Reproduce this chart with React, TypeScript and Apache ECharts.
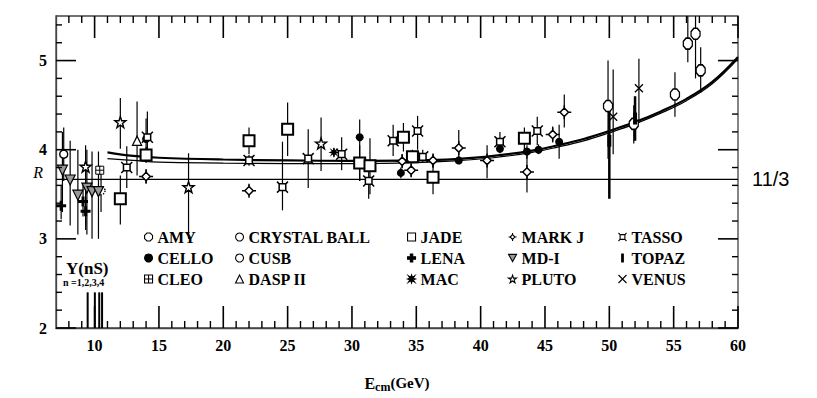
import React, { useEffect, useRef } from "react";
import * as echarts from "echarts";

// ---- axis ranges & ticks ----
const X_MIN = 7;
const X_MAX = 60;
const Y_MIN = 2;
const Y_MAX = 5.5;
const X_MAJOR_TICKS = [10, 15, 20, 25, 30, 35, 40, 45, 50, 55, 60];
const Y_MAJOR_TICKS = [2, 3, 4, 5];
const X_MINOR_STEP = 1;
const Y_MINOR_STEP = 0.2;
const R_PARTON = 11 / 3;

// ---- measurements: [E_cm, R, R_low, R_high] ----
const AMY = [[49.9, 4.49, 3.9, 5.0], [51.9, 4.29, 4.07, 4.5], [55.1, 4.62, 4.37, 4.87], [56.1, 5.19, 4.98, 5.5], [56.7, 5.3, 4.8, 5.5], [57.1, 4.89, 4.64, 5.15]];
const CELLO = [[14.0, 4.12, 3.92, 4.35], [30.6, 4.14, 3.65, 4.34], [33.8, 3.74, 3.68, 3.8], [38.3, 3.88, 3.84, 3.92], [41.5, 4.01, 3.96, 4.06], [43.6, 3.98, 3.9, 4.05], [44.5, 4.0, 3.95, 4.06], [46.1, 4.09, 3.9, 4.28]];
const CLEO = [[10.4, 3.77, 3.72, 3.82]];
const CRYSTAL_BALL = [[7.6, 3.95, 3.65, 4.25]];
const CUSB = [[10.5, 3.54, 3.3, 3.8]];
const DASP_II = [[13.3, 4.1, 3.71, 4.54]];
const JADE = [[12.0, 3.45, 3.16, 3.71], [14.0, 3.94, 3.85, 4.03], [22.0, 4.1, 3.95, 4.25], [25.0, 4.23, 3.93, 4.53], [30.6, 3.85, 3.65, 4.05], [31.4, 3.82, 3.5, 4.13], [34.0, 4.14, 3.98, 4.3], [34.7, 3.92, 3.85, 4.0], [36.3, 3.69, 3.5, 3.88], [43.4, 4.13, 3.99, 4.25]];
const LENA = [[7.4, 3.37, 3.22, 3.6], [9.1, 3.42, 3.25, 3.6], [9.3, 3.31, 3.15, 3.47]];
const MAC = [[28.6, 3.97, 3.92, 4.02]];
const MARK_J = [[14.0, 3.7, 3.62, 3.78], [22.0, 3.54, 3.48, 3.6], [33.9, 3.87, 3.8, 3.95], [34.6, 3.77, 3.7, 3.84], [36.3, 3.88, 3.8, 3.95], [38.3, 4.02, 3.88, 4.22], [40.5, 3.88, 3.68, 4.05], [43.6, 3.75, 3.52, 3.97], [45.6, 4.17, 4.08, 4.26], [46.5, 4.42, 4.25, 4.62]];
const MD_1 = [[7.5, 3.77, 3.3, 4.2], [8.1, 3.66, 3.15, 4.1], [8.7, 3.49, 3.05, 4.0], [9.4, 3.57, 3.05, 4.0], [9.8, 3.53, 3.0, 3.98], [10.3, 3.53, 3.0, 3.98]];
const PLUTO = [[9.3, 3.81, 3.1, 4.05], [12.0, 4.31, 4.01, 4.58], [17.3, 3.58, 3.0, 3.96], [27.6, 4.07, 3.76, 4.36]];
const TASSO = [[12.5, 3.8, 3.57, 4.04], [14.1, 4.14, 3.93, 4.43], [22.0, 3.88, 3.82, 3.94], [24.6, 3.58, 3.32, 4.09], [26.6, 3.9, 3.57, 4.23], [29.2, 3.95, 3.77, 4.14], [31.3, 3.65, 3.45, 3.82], [33.2, 4.1, 3.93, 4.28], [35.1, 4.21, 4.0, 4.38], [35.5, 3.92, 3.85, 4.0], [41.5, 4.09, 3.98, 4.2], [44.4, 4.21, 4.05, 4.37]];
const TOPAZ = [[50.0, 4.1, 3.45, 4.55], [52.0, 4.35, 4.1, 4.6]];
const VENUS = [[50.3, 4.37, 3.95, 4.9], [52.3, 4.69, 4.3, 5.02]];

// ---- theory curves ----
const CURVE_E = [11, 13, 15, 20, 25, 30, 35, 38, 41, 44, 46, 48, 50, 52, 54, 56, 58, 60];
const CURVE_A = [3.97, 3.93, 3.91, 3.89, 3.88, 3.875, 3.88, 3.895, 3.93, 3.99, 4.05, 4.12, 4.21, 4.31, 4.43, 4.57, 4.76, 5.04];
const CURVE_B = [3.9, 3.88, 3.86, 3.85, 3.845, 3.845, 3.855, 3.875, 3.91, 3.97, 4.03, 4.1, 4.19, 4.29, 4.41, 4.55, 4.74, 5.02];

// ---- Upsilon resonances (GeV) ----
const UPSILON_MASSES = [9.46, 10.02, 10.36, 10.58];
const UPSILON_MARK_TOP = 2.4;

const SERIF = "'Liberation Serif', 'DejaVu Serif', serif";

const STYLES: Record<string, any> = {
  AMY: { symbol: "path://M3,0 L7,0 L10,3 L10,7 L7,10 L3,10 L0,7 L0,3 Z", size: [9, 11], fill: "#fff", bw: 1.4 },
  CELLO: { symbol: "circle", size: 8, fill: "#000", bw: 0 },
  CLEO: { symbol: "path://M0,0H10V10H0Z M5,0V10 M0,5H10", size: 8, fill: "#fff", bw: 1 },
  "CRYSTAL BALL": { symbol: "circle", size: 8, fill: "#fff", bw: 1.4 },
  CUSB: { symbol: "circle", size: 8, fill: "#fff", bw: 1.4, dotted: true },
  "DASP II": { symbol: "triangle", size: 9, fill: "#fff", bw: 1.3 },
  JADE: { symbol: "rect", size: 11, fill: "#fff", bw: 2 },
  LENA: { symbol: "path://M3.5,0H6.5V3.5H10V6.5H6.5V10H3.5V6.5H0V3.5H3.5Z", size: 10, fill: "#000", bw: 0 },
  MAC: { symbol: "path://M5,0 L6,3 L9,1 L7,4 L10,5 L7,6 L9,9 L6,7 L5,10 L4,7 L1,9 L3,6 L0,5 L3,4 L1,1 L4,3 Z", size: 11, fill: "#000", bw: 0 },
  "MARK J": { symbol: "path://M0,5H2 M8,5H10 M5,0V2 M5,8V10 M5,2 L8,5 L5,8 L2,5 Z", size: 14, fill: "#fff", bw: 1.5 },
  "MD-I": { symbol: "path://M0,0H10L5,9Z", size: 10, fill: "#999", bw: 1.2 },
  PLUTO: { symbol: "path://M5,0 L6.2,3.6 L10,3.6 L7,5.9 L8.1,9.5 L5,7.3 L1.9,9.5 L3,5.9 L0,3.6 L3.8,3.6 Z", size: 11, fill: "#fff", bw: 1.4 },
  TASSO: { symbol: "path://M2,2H8V8H2Z M0,0L2,2 M10,0L8,2 M0,10L2,8 M10,10L8,8", size: 11, fill: "#fff", bw: 1.5 },
  TOPAZ: { symbol: "path://M4,0H6V10H4Z", size: [4, 12], fill: "#000", bw: 0 },
  VENUS: { symbol: "path://M0,0L10,10M10,0L0,10", size: 8, fill: "none", bw: 1.3 },
};

const EXPERIMENTS: [string, number[][]][] = [
  ["AMY", AMY], ["CELLO", CELLO], ["CLEO", CLEO],
  ["CRYSTAL BALL", CRYSTAL_BALL], ["CUSB", CUSB], ["DASP II", DASP_II],
  ["JADE", JADE], ["LENA", LENA], ["MAC", MAC],
  ["MARK J", MARK_J], ["MD-I", MD_1], ["PLUTO", PLUTO],
  ["TASSO", TASSO], ["TOPAZ", TOPAZ], ["VENUS", VENUS],
];

const LEGEND_COLUMNS = [
  { left: 144, names: ["AMY", "CELLO", "CLEO"] },
  { left: 235, names: ["CRYSTAL BALL", "CUSB", "DASP II"] },
  { left: 407, names: ["JADE", "LENA", "MAC"] },
  { left: 508, names: ["MARK J", "MD-I", "PLUTO"] },
  { left: 616, names: ["TASSO", "TOPAZ", "VENUS"] },
];

function vLine(lineWidth: number) {
  return (params: any, api: any) => {
    const p1 = api.coord([api.value(0), api.value(1)]);
    const p2 = api.coord([api.value(0), api.value(2)]);
    return {
      type: "line",
      shape: { x1: p1[0], y1: p1[1], x2: p2[0], y2: p2[1] },
      style: { stroke: "#000", lineWidth },
    };
  };
}

function steps(from: number, to: number, step: number) {
  const out: number[] = [];
  const n = Math.round((to - from) / step);
  for (let i = 1; i < n; i++) out.push(+(from + i * step).toFixed(4));
  return out;
}

// tick items: [x, y, dx, dy] = anchor on the frame (data units) plus pixel direction
function tickItems() {
  const xMinor = steps(X_MIN, X_MAX, X_MINOR_STEP).filter((v) => !X_MAJOR_TICKS.includes(v));
  const yMinor = steps(Y_MIN, Y_MAX, Y_MINOR_STEP).filter((v) => !Y_MAJOR_TICKS.includes(v));
  const xTicks = (vals: number[], len: number) =>
    vals.flatMap((v) => [[v, Y_MIN, 0, -len], [v, Y_MAX, 0, len]]);
  const yTicks = (vals: number[], len: number) =>
    vals.flatMap((v) => [[X_MIN, v, len, 0], [X_MAX, v, -len, 0]]);
  return {
    major: [...xTicks(X_MAJOR_TICKS, 22), ...yTicks(Y_MAJOR_TICKS, 20)],
    minor: [...xTicks(xMinor, 7), ...yTicks(yMinor, 6)],
  };
}

function buildOption() {
  const tickLabel = { fontFamily: SERIF, fontSize: 16, fontWeight: "bold", color: "#000" };
  const frame = { show: true, lineStyle: { color: "#444", width: 1.3 } };

  const xAxis: any = {
    type: "value", position: "bottom", min: X_MIN, max: X_MAX, splitNumber: 10,
    axisLine: frame,
    axisTick: { show: false },
    axisLabel: { show: true, showMinLabel: false, margin: 9, ...tickLabel },
    splitLine: { show: false },
    name: "{e|E}{s|cm}{g|(GeV)}",
    nameLocation: "middle",
    nameGap: 45,
    nameMoveOverlap: false,
    nameTextStyle: {
      rich: {
        e: { fontFamily: SERIF, fontSize: 16, fontWeight: "bold", color: "#000" },
        s: { fontFamily: SERIF, fontSize: 12, fontWeight: "bold", color: "#000", verticalAlign: "bottom", padding: [8, 0, 0, 0] },
        g: { fontFamily: SERIF, fontSize: 15, fontWeight: "bold", color: "#000" },
      },
    },
  };
  const yAxis: any = {
    type: "value", position: "left", min: Y_MIN, max: Y_MAX, interval: 1,
    axisLine: frame,
    axisTick: { show: false },
    axisLabel: { show: true, showMaxLabel: false, margin: 9, ...tickLabel },
    splitLine: { show: false },
    name: "R", nameLocation: "middle", nameGap: 13, nameRotate: 0,
    nameMoveOverlap: false,
    nameTextStyle: { fontFamily: SERIF, fontSize: 16, fontStyle: "italic", color: "#000", padding: [6, 0, 0, 0] },
  };

  const series: any[] = [];
  series.push({
    name: "R0", type: "line", data: [[X_MIN, R_PARTON], [X_MAX, R_PARTON]],
    showSymbol: false, symbol: "none", lineStyle: { color: "#000", width: 1.3 }, z: 2, silent: true,
    endLabel: { show: true, formatter: "11/3", distance: 14, fontFamily: "'Liberation Sans', Arial, sans-serif", fontSize: 20, color: "#000" },
  });
  series.push({
    name: "QCD a", type: "line", data: CURVE_E.map((e, i) => [e, CURVE_A[i]]), smooth: 0.4,
    showSymbol: false, symbol: "none", lineStyle: { color: "#000", width: 2.2 }, z: 2, silent: true,
  });
  series.push({
    name: "QCD b", type: "line", data: CURVE_E.map((e, i) => [e, CURVE_B[i]]), smooth: 0.4,
    showSymbol: false, symbol: "none", lineStyle: { color: "#000", width: 1.2 }, z: 2, silent: true,
  });
  series.push({
    name: "Upsilon", type: "custom", data: UPSILON_MASSES.map((m) => [m, Y_MIN, UPSILON_MARK_TOP]),
    renderItem: vLine(2), encode: { x: 0, y: [1, 2] }, z: 2, silent: true,
  });

  for (const [name, data] of EXPERIMENTS) {
    const st = STYLES[name];
    series.push({
      name: name + " errors", type: "custom",
      data: data.map((d) => [d[0], d[2], d[3]]),
      renderItem: vLine(name === "TOPAZ" ? 2.5 : 1.2), encode: { x: 0, y: [1, 2] }, z: 3, silent: true,
    });
    series.push({
      name, type: "scatter", data: data.map((d) => [d[0], d[1]]),
      symbol: st.symbol, symbolSize: st.size,
      itemStyle: {
        color: st.fill, borderColor: "#000", borderWidth: st.bw,
        borderType: st.dotted ? "dotted" : "solid", opacity: 1,
      },
      z: 5,
    });
  }

  const legends = LEGEND_COLUMNS.map((c) => ({
    show: true, orient: "vertical", left: c.left, top: 229,
    itemWidth: 8, itemHeight: 8, itemGap: 5, padding: 0,
    selectedMode: false, data: c.names,
    itemStyle: { borderWidth: 1.1 },
    textStyle: { fontFamily: SERIF, fontSize: 16, fontWeight: "bold", color: "#000", lineHeight: 16 },
  }));

  return {
    animation: false,
    grid: {
      left: 56, right: 79, top: 16, bottom: 65, containLabel: false,
      show: true, borderColor: "#444", borderWidth: 1.3, backgroundColor: "transparent",
    },
    xAxis,
    yAxis,
    legend: legends,
    series,
  };
}

// Tick marks as graphic lines, placed through the chart's own axis scales.
function buildGraphic(chart: echarts.ECharts) {
  const { major, minor } = tickItems();
  const els: any[] = [
    { type: "text", left: 66, top: 260, style: { text: "Υ(nS)", font: "bold 17px " + SERIF, fill: "#000" } },
    { type: "text", left: 63, top: 277, style: { text: "n =1,2,3,4", font: "bold 10px " + SERIF, fill: "#000" } },
  ];
  const add = (items: number[][], width: number) => {
    for (const [x, y, dx, dy] of items) {
      const p = chart.convertToPixel({ gridIndex: 0 }, [x, y]) as number[];
      if (!p || isNaN(p[0]) || isNaN(p[1])) continue;
      els.push({
        type: "line", z: 100, silent: true,
        shape: { x1: p[0], y1: p[1], x2: p[0] + dx, y2: p[1] + dy },
        style: { stroke: "#000", lineWidth: width },
      });
    }
  };
  add(major, 1.6);
  add(minor, 1.4);
  return els;
}

export default function App() {
  const ref = useRef<HTMLDivElement>(null);
  useEffect(() => {
    if (!ref.current) return;
    const chart = echarts.init(ref.current, undefined, { renderer: "svg" });
    chart.setOption(buildOption() as any);
    chart.setOption({ graphic: buildGraphic(chart) } as any);
    return () => chart.dispose();
  }, []);
  return <div ref={ref} style={{ width: 817, height: 398, position: "absolute", left: 0, top: 0 }} />;
}
